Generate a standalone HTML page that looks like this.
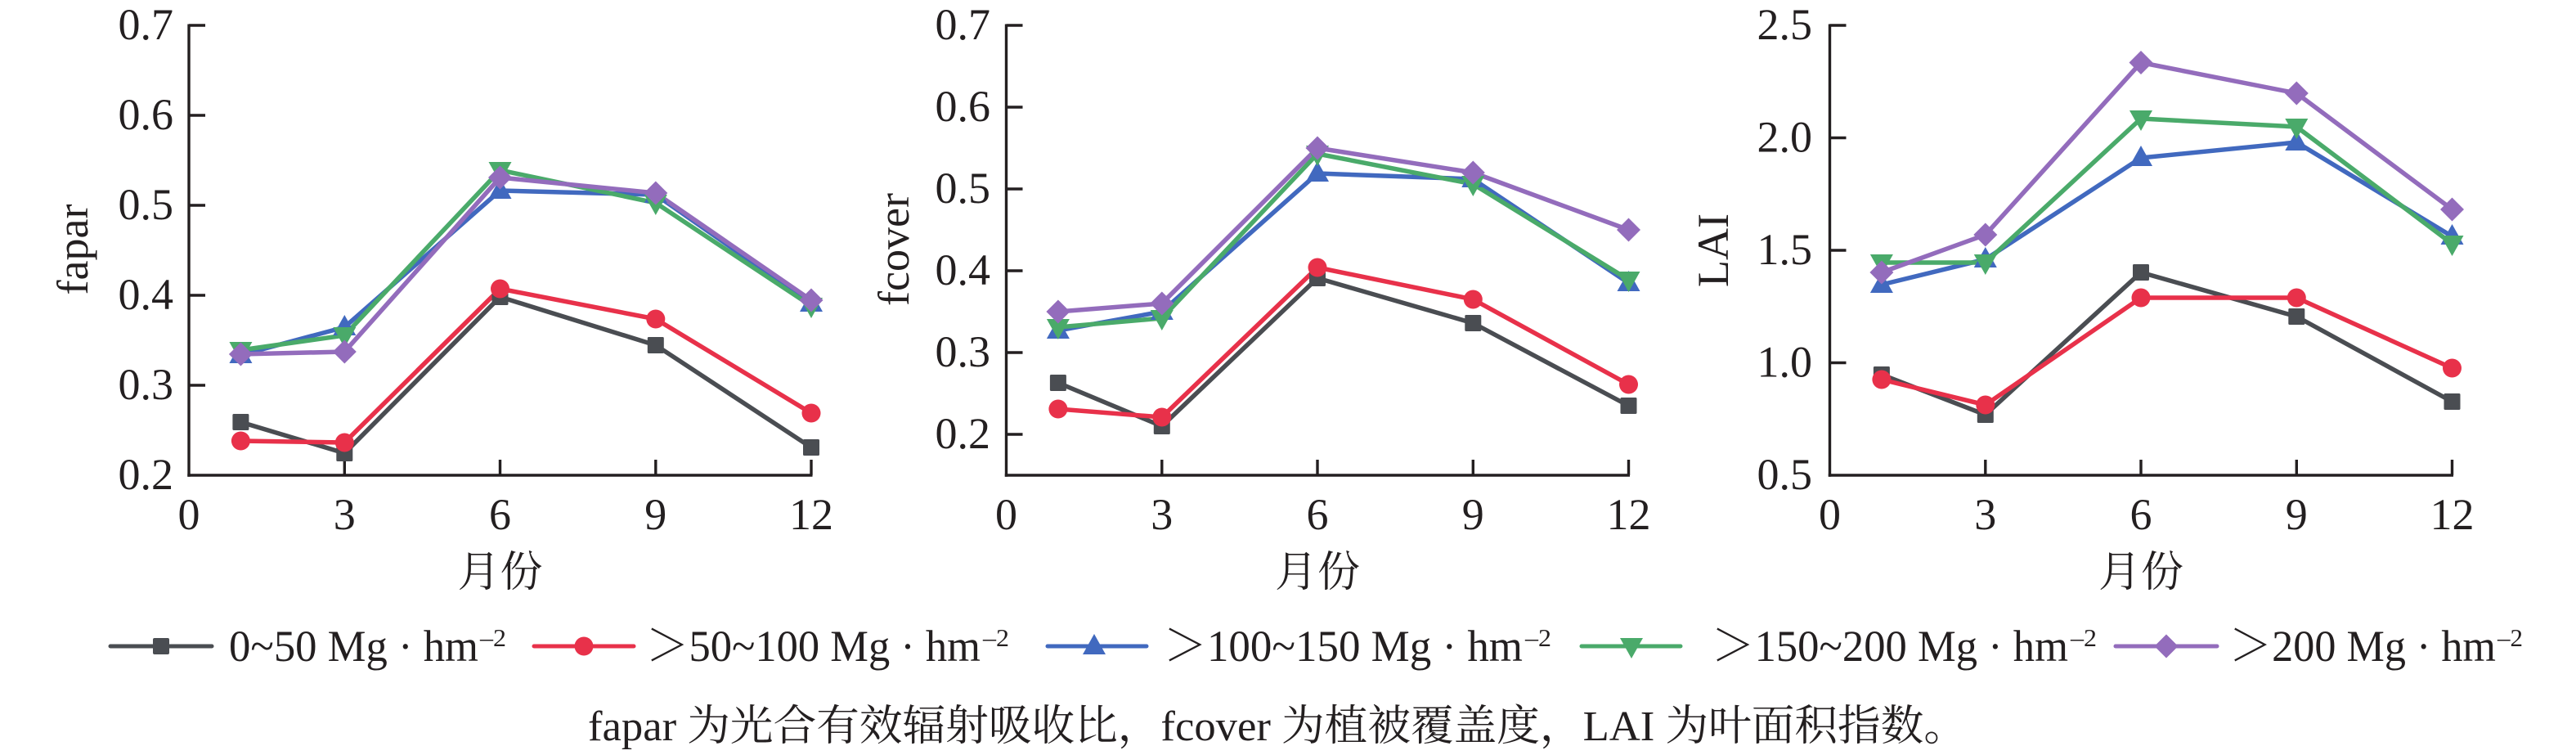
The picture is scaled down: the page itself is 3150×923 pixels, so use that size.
<!DOCTYPE html>
<html>
<head>
<meta charset="utf-8">
<style>
html,body{margin:0;padding:0;background:#fff;}
svg{display:block;}
text{font-family:"Liberation Serif","Noto Serif CJK SC",serif;fill:#231f20;}
.cjk{font-family:"Liberation Serif","Noto Serif CJK SC","Noto Sans CJK SC",serif;}
</style>
</head>
<body>
<svg width="3150" height="923" viewBox="0 0 3150 923" xmlns="http://www.w3.org/2000/svg">
<rect width="3150" height="923" fill="#fff"/>

<!-- ============ PANEL 1 : fapar ============ -->
<g stroke="#231f20" stroke-width="3.4" fill="none">
  <line x1="231" y1="29.5" x2="231" y2="582.7"/>
  <line x1="229.3" y1="581" x2="993.5" y2="581"/>
  <line x1="231" y1="31" x2="251" y2="31"/>
  <line x1="231" y1="141" x2="251" y2="141"/>
  <line x1="231" y1="251" x2="251" y2="251"/>
  <line x1="231" y1="361" x2="251" y2="361"/>
  <line x1="231" y1="471" x2="251" y2="471"/>
  <line x1="421.3" y1="581" x2="421.3" y2="562"/>
  <line x1="611.5" y1="581" x2="611.5" y2="562"/>
  <line x1="801.8" y1="581" x2="801.8" y2="562"/>
  <line x1="992" y1="581" x2="992" y2="562"/>
</g>
<g font-size="54" text-anchor="end">
  <text x="212" y="48">0.7</text>
  <text x="212" y="158">0.6</text>
  <text x="212" y="268">0.5</text>
  <text x="212" y="378">0.4</text>
  <text x="212" y="488">0.3</text>
  <text x="212" y="598">0.2</text>
</g>
<g font-size="54" text-anchor="middle">
  <text x="231" y="647">0</text>
  <text x="421.3" y="647">3</text>
  <text x="611.5" y="647">6</text>
  <text x="801.8" y="647">9</text>
  <text x="992" y="647">12</text>
</g>
<text font-size="54" text-anchor="middle" transform="translate(107,305) rotate(-90)">fapar</text>
<text class="cjk" font-size="52" text-anchor="middle" x="611.5" y="717">月份</text>

<g fill="none" stroke-width="5.5" stroke-linejoin="round" stroke-linecap="round">
  <polyline stroke="#4a4d52" points="294.4,516 421.3,554 611.5,363 801.8,422 992,547"/>
  <polyline stroke="#e8314a" points="294.4,539 421.3,541 611.5,353 801.8,390 992,505"/>
  <polyline stroke="#4169bf" points="294.4,434 421.3,400 611.5,233 801.8,238 992,371"/>
  <polyline stroke="#4aaa6a" points="294.4,428 421.3,410 611.5,208 801.8,248 992,374"/>
  <polyline stroke="#936cbc" points="294.4,433 421.3,430 611.5,217 801.8,236 992,367"/>
</g>
<g fill="#4a4d52">
  <rect x="284.4" y="506" width="20" height="20" rx="1.5"/>
  <rect x="411.3" y="544" width="20" height="20" rx="1.5"/>
  <rect x="601.5" y="353" width="20" height="20" rx="1.5"/>
  <rect x="791.8" y="412" width="20" height="20" rx="1.5"/>
  <rect x="982" y="537" width="20" height="20" rx="1.5"/>
</g>
<g fill="#e8314a">
  <circle cx="294.4" cy="539" r="11.5"/>
  <circle cx="421.3" cy="541" r="11.5"/>
  <circle cx="611.5" cy="353" r="11.5"/>
  <circle cx="801.8" cy="390" r="11.5"/>
  <circle cx="992" cy="505" r="11.5"/>
</g>
<g fill="#4169bf">
  <polygon points="294.4,419 280.4,444 308.4,444"/>
  <polygon points="421.3,385 407.3,410 435.3,410"/>
  <polygon points="611.5,218 597.5,243 625.5,243"/>
  <polygon points="801.8,223 787.8,248 815.8,248"/>
  <polygon points="992,356 978,381 1006,381"/>
</g>
<g fill="#4aaa6a">
  <polygon points="280.4,418 308.4,418 294.4,443"/>
  <polygon points="407.3,400 435.3,400 421.3,425"/>
  <polygon points="597.5,198 625.5,198 611.5,223"/>
  <polygon points="787.8,238 815.8,238 801.8,263"/>
  <polygon points="978,364 1006,364 992,389"/>
</g>
<g fill="#936cbc">
  <polygon points="294.4,418.5 308.9,433 294.4,447.5 279.9,433"/>
  <polygon points="421.3,415.5 435.8,430 421.3,444.5 406.8,430"/>
  <polygon points="611.5,202.5 626,217 611.5,231.5 597,217"/>
  <polygon points="801.8,221.5 816.3,236 801.8,250.5 787.3,236"/>
  <polygon points="992,352.5 1006.5,367 992,381.5 977.5,367"/>
</g>

<!-- ============ PANEL 2 : fcover ============ -->
<g stroke="#231f20" stroke-width="3.4" fill="none">
  <line x1="1230.5" y1="29.5" x2="1230.5" y2="582.7"/>
  <line x1="1228.8" y1="581" x2="1993" y2="581"/>
  <line x1="1230.5" y1="31" x2="1250.5" y2="31"/>
  <line x1="1230.5" y1="131" x2="1250.5" y2="131"/>
  <line x1="1230.5" y1="231" x2="1250.5" y2="231"/>
  <line x1="1230.5" y1="331" x2="1250.5" y2="331"/>
  <line x1="1230.5" y1="431" x2="1250.5" y2="431"/>
  <line x1="1230.5" y1="531" x2="1250.5" y2="531"/>
  <line x1="1420.8" y1="581" x2="1420.8" y2="562"/>
  <line x1="1611" y1="581" x2="1611" y2="562"/>
  <line x1="1801.3" y1="581" x2="1801.3" y2="562"/>
  <line x1="1991.5" y1="581" x2="1991.5" y2="562"/>
</g>
<g font-size="54" text-anchor="end">
  <text x="1211" y="48">0.7</text>
  <text x="1211" y="148">0.6</text>
  <text x="1211" y="248">0.5</text>
  <text x="1211" y="348">0.4</text>
  <text x="1211" y="448">0.3</text>
  <text x="1211" y="548">0.2</text>
</g>
<g font-size="54" text-anchor="middle">
  <text x="1230.5" y="647">0</text>
  <text x="1420.8" y="647">3</text>
  <text x="1611" y="647">6</text>
  <text x="1801.3" y="647">9</text>
  <text x="1991.5" y="647">12</text>
</g>
<text font-size="54" text-anchor="middle" transform="translate(1111,305) rotate(-90)">fcover</text>
<text class="cjk" font-size="52" text-anchor="middle" x="1611" y="717">月份</text>

<g fill="none" stroke-width="5.5" stroke-linejoin="round" stroke-linecap="round">
  <polyline stroke="#4a4d52" points="1293.9,468 1420.8,521 1611,340 1801.3,395 1991.5,496"/>
  <polyline stroke="#e8314a" points="1293.9,500 1420.8,510 1611,327 1801.3,366 1991.5,470"/>
  <polyline stroke="#4169bf" points="1293.9,404 1420.8,381 1611,212 1801.3,219 1991.5,346"/>
  <polyline stroke="#4aaa6a" points="1293.9,400 1420.8,389 1611,188 1801.3,225 1991.5,342"/>
  <polyline stroke="#936cbc" points="1293.9,381 1420.8,371 1611,181 1801.3,211 1991.5,281"/>
</g>
<g fill="#4a4d52">
  <rect x="1283.9" y="458" width="20" height="20" rx="1.5"/>
  <rect x="1410.8" y="511" width="20" height="20" rx="1.5"/>
  <rect x="1601" y="330" width="20" height="20" rx="1.5"/>
  <rect x="1791.3" y="385" width="20" height="20" rx="1.5"/>
  <rect x="1981.5" y="486" width="20" height="20" rx="1.5"/>
</g>
<g fill="#e8314a">
  <circle cx="1293.9" cy="500" r="11.5"/>
  <circle cx="1420.8" cy="510" r="11.5"/>
  <circle cx="1611" cy="327" r="11.5"/>
  <circle cx="1801.3" cy="366" r="11.5"/>
  <circle cx="1991.5" cy="470" r="11.5"/>
</g>
<g fill="#4169bf">
  <polygon points="1293.9,389 1279.9,414 1307.9,414"/>
  <polygon points="1420.8,366 1406.8,391 1434.8,391"/>
  <polygon points="1611,197 1597,222 1625,222"/>
  <polygon points="1801.3,204 1787.3,229 1815.3,229"/>
  <polygon points="1991.5,331 1977.5,356 2005.5,356"/>
</g>
<g fill="#4aaa6a">
  <polygon points="1279.9,390 1307.9,390 1293.9,415"/>
  <polygon points="1406.8,379 1434.8,379 1420.8,404"/>
  <polygon points="1597,178 1625,178 1611,203"/>
  <polygon points="1787.3,215 1815.3,215 1801.3,240"/>
  <polygon points="1977.5,332 2005.5,332 1991.5,357"/>
</g>
<g fill="#936cbc">
  <polygon points="1293.9,366.5 1308.4,381 1293.9,395.5 1279.4,381"/>
  <polygon points="1420.8,356.5 1435.3,371 1420.8,385.5 1406.3,371"/>
  <polygon points="1611,166.5 1625.5,181 1611,195.5 1596.5,181"/>
  <polygon points="1801.3,196.5 1815.8,211 1801.3,225.5 1786.8,211"/>
  <polygon points="1991.5,266.5 2006,281 1991.5,295.5 1977,281"/>
</g>

<!-- ============ PANEL 3 : LAI ============ -->
<g stroke="#231f20" stroke-width="3.4" fill="none">
  <line x1="2237.5" y1="29.5" x2="2237.5" y2="582.7"/>
  <line x1="2235.8" y1="581" x2="3000" y2="581"/>
  <line x1="2237.5" y1="31" x2="2257.5" y2="31"/>
  <line x1="2237.5" y1="168.5" x2="2257.5" y2="168.5"/>
  <line x1="2237.5" y1="306" x2="2257.5" y2="306"/>
  <line x1="2237.5" y1="443.5" x2="2257.5" y2="443.5"/>
  <line x1="2427.8" y1="581" x2="2427.8" y2="562"/>
  <line x1="2618" y1="581" x2="2618" y2="562"/>
  <line x1="2808.3" y1="581" x2="2808.3" y2="562"/>
  <line x1="2998.5" y1="581" x2="2998.5" y2="562"/>
</g>
<g font-size="54" text-anchor="end">
  <text x="2216" y="48">2.5</text>
  <text x="2216" y="185.5">2.0</text>
  <text x="2216" y="323">1.5</text>
  <text x="2216" y="460.5">1.0</text>
  <text x="2216" y="598">0.5</text>
</g>
<g font-size="54" text-anchor="middle">
  <text x="2237.5" y="647">0</text>
  <text x="2427.8" y="647">3</text>
  <text x="2618" y="647">6</text>
  <text x="2808.3" y="647">9</text>
  <text x="2998.5" y="647">12</text>
</g>
<text font-size="54" text-anchor="middle" transform="translate(2113,306) rotate(-90)">LAI</text>
<text class="cjk" font-size="52" text-anchor="middle" x="2618" y="717">月份</text>

<g fill="none" stroke-width="5.5" stroke-linejoin="round" stroke-linecap="round">
  <polyline stroke="#4a4d52" points="2300.9,458 2427.8,507 2618,333 2808.3,387 2998.5,491"/>
  <polyline stroke="#e8314a" points="2300.9,464 2427.8,495 2618,364 2808.3,364 2998.5,450"/>
  <polyline stroke="#4169bf" points="2300.9,348 2427.8,317 2618,193 2808.3,174 2998.5,289"/>
  <polyline stroke="#4aaa6a" points="2300.9,321 2427.8,321 2618,145 2808.3,155 2998.5,298"/>
  <polyline stroke="#936cbc" points="2300.9,333 2427.8,287 2618,76.5 2808.3,114 2998.5,256"/>
</g>
<g fill="#4a4d52">
  <rect x="2290.9" y="448" width="20" height="20" rx="1.5"/>
  <rect x="2417.8" y="497" width="20" height="20" rx="1.5"/>
  <rect x="2608" y="323" width="20" height="20" rx="1.5"/>
  <rect x="2798.3" y="377" width="20" height="20" rx="1.5"/>
  <rect x="2988.5" y="481" width="20" height="20" rx="1.5"/>
</g>
<g fill="#e8314a">
  <circle cx="2300.9" cy="464" r="11.5"/>
  <circle cx="2427.8" cy="495" r="11.5"/>
  <circle cx="2618" cy="364" r="11.5"/>
  <circle cx="2808.3" cy="364" r="11.5"/>
  <circle cx="2998.5" cy="450" r="11.5"/>
</g>
<g fill="#4169bf">
  <polygon points="2300.9,333 2286.9,358 2314.9,358"/>
  <polygon points="2427.8,302 2413.8,327 2441.8,327"/>
  <polygon points="2618,178 2604,203 2632,203"/>
  <polygon points="2808.3,159 2794.3,184 2822.3,184"/>
  <polygon points="2998.5,274 2984.5,299 3012.5,299"/>
</g>
<g fill="#4aaa6a">
  <polygon points="2286.9,311 2314.9,311 2300.9,336"/>
  <polygon points="2413.8,311 2441.8,311 2427.8,336"/>
  <polygon points="2604,135 2632,135 2618,160"/>
  <polygon points="2794.3,145 2822.3,145 2808.3,170"/>
  <polygon points="2984.5,288 3012.5,288 2998.5,313"/>
</g>
<g fill="#936cbc">
  <polygon points="2300.9,318.5 2315.4,333 2300.9,347.5 2286.4,333"/>
  <polygon points="2427.8,272.5 2442.3,287 2427.8,301.5 2413.3,287"/>
  <polygon points="2618,62 2632.5,76.5 2618,91 2603.5,76.5"/>
  <polygon points="2808.3,99.5 2822.8,114 2808.3,128.5 2793.8,114"/>
  <polygon points="2998.5,241.5 3013,256 2998.5,270.5 2984,256"/>
</g>

<!-- ============ LEGEND ============ -->
<g fill="none" stroke-width="5" stroke-linecap="round">
  <line x1="135" y1="790" x2="259" y2="790" stroke="#4a4d52"/>
  <line x1="653" y1="790" x2="775" y2="790" stroke="#e8314a"/>
  <line x1="1281" y1="790" x2="1402" y2="790" stroke="#4169bf"/>
  <line x1="1934" y1="790" x2="2055" y2="790" stroke="#4aaa6a"/>
  <line x1="2587" y1="790" x2="2711" y2="790" stroke="#936cbc"/>
</g>
<rect x="187" y="780" width="20" height="20" rx="2" fill="#4a4d52"/>
<circle cx="714" cy="790" r="11.5" fill="#e8314a"/>
<polygon points="1338,775 1324,800 1352,800" fill="#4169bf"/>
<polygon points="1981,780 2009,780 1995,805" fill="#4aaa6a"/>
<polygon points="2649,775.5 2663.5,790 2649,804.5 2634.5,790" fill="#936cbc"/>

<g font-size="54">
  <text x="280" y="808" textLength="305" lengthAdjust="spacingAndGlyphs">0~50 Mg · hm</text>
  <text x="790" y="808" textLength="409" lengthAdjust="spacingAndGlyphs">＞50~100 Mg · hm</text>
  <text x="1423" y="808" textLength="439" lengthAdjust="spacingAndGlyphs">＞100~150 Mg · hm</text>
  <text x="2093" y="808" textLength="436" lengthAdjust="spacingAndGlyphs">＞150~200 Mg · hm</text>
  <text x="2726" y="808" textLength="326" lengthAdjust="spacingAndGlyphs">＞200 Mg · hm</text>
</g>
<g font-size="31">
  <text x="587" y="790" textLength="32" lengthAdjust="spacingAndGlyphs">–2</text>
  <text x="1202" y="790" textLength="32" lengthAdjust="spacingAndGlyphs">–2</text>
  <text x="1865" y="790" textLength="32" lengthAdjust="spacingAndGlyphs">–2</text>
  <text x="2532" y="790" textLength="32" lengthAdjust="spacingAndGlyphs">–2</text>
  <text x="3054" y="790" textLength="31" lengthAdjust="spacingAndGlyphs">–2</text>
</g>

<!-- ============ CAPTION ============ -->
<text class="cjk" x="719" y="905" font-size="52" textLength="1686" lengthAdjust="spacingAndGlyphs">fapar 为光合有效辐射吸收比，fcover 为植被覆盖度，LAI 为叶面积指数。</text>
</svg>
</body>
</html>
